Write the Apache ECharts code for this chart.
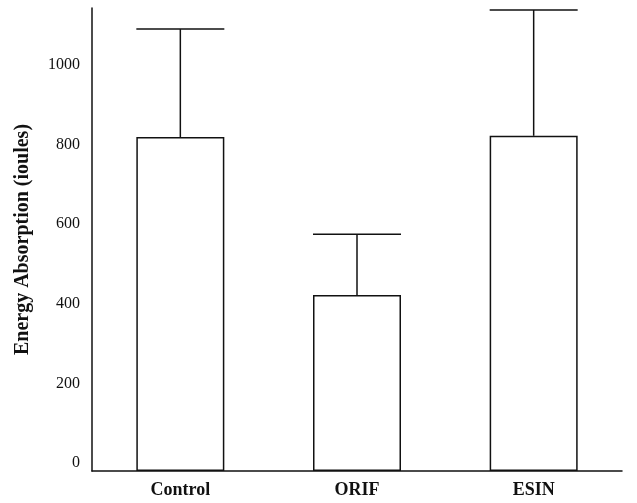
<!DOCTYPE html>
<html>
<head>
<meta charset="utf-8">
<script src="https://cdn.jsdelivr.net/npm/echarts@6/dist/echarts.min.js"></script>
<style>html,body{margin:0;padding:0;background:#fff;}#c{width:637px;height:503px;}</style>
</head>
<body>
<div id="c"></div>
<script>
var categories = ['Control', 'ORIF', 'ESIN'];
var means = [839, 442, 842];
var upperErrors = [1110, 595, 1158];
var yTicks = [0, 200, 400, 600, 800, 1000];

var chart = echarts.init(document.getElementById('c'), null, {renderer: 'canvas'});
var serif = '"Liberation Serif", "DejaVu Serif", serif';
var option = {
  backgroundColor: '#fff',
  animation: false,
  grid: {left: 92, right: 15, top: 8, bottom: 32, containLabel: false},
  xAxis: {
    type: 'category',
    data: categories,
    axisLine: {show: true, lineStyle: {color: '#111', width: 1.5}},
    axisTick: {show: false},
    axisLabel: {color: '#111', fontFamily: serif, fontWeight: 'bold', fontSize: 18, margin: 10}
  },
  yAxis: {
    type: 'value',
    min: 0,
    max: 1163,
    interval: 200,
    name: 'Energy Absorption (ioules)',
    nameLocation: 'middle',
    nameGap: 59,
    nameTextStyle: {color: '#111', fontFamily: serif, fontWeight: 'bold', fontSize: 20},
    axisLine: {show: true, lineStyle: {color: '#111', width: 1.5}},
    axisTick: {show: false},
    splitLine: {show: false},
    axisLabel: {
      color: '#111', fontFamily: serif, fontSize: 16, margin: 12,
      showMaxLabel: false,
      verticalAlign: 'bottom',
      lineHeight: 16,
      formatter: function (v) { return yTicks.indexOf(v) >= 0 ? String(v) : ''; }
    }
  },
  series: [
    {
      type: 'bar',
      data: means,
      barWidth: 88,
      itemStyle: {color: '#fff', borderColor: '#111', borderWidth: 1.5},
      z: 2
    },
    {
      type: 'custom',
      z: 3,
      data: categories.map(function (c, i) { return [i, means[i], upperErrors[i]]; }),
      renderItem: function (params, api) {
        var i = api.value(0);
        var base = api.coord([i, api.value(1)]);
        var top = api.coord([i, api.value(2)]);
        var half = 44;
        var style = {stroke: '#111', lineWidth: 1.5, fill: null};
        return {
          type: 'group',
          children: [
            {type: 'line', shape: {x1: base[0], y1: base[1], x2: top[0], y2: top[1]}, style: style},
            {type: 'line', shape: {x1: top[0] - half, y1: top[1], x2: top[0] + half, y2: top[1]}, style: style}
          ]
        };
      }
    }
  ]
};
chart.setOption(option);
</script>
</body>
</html>
